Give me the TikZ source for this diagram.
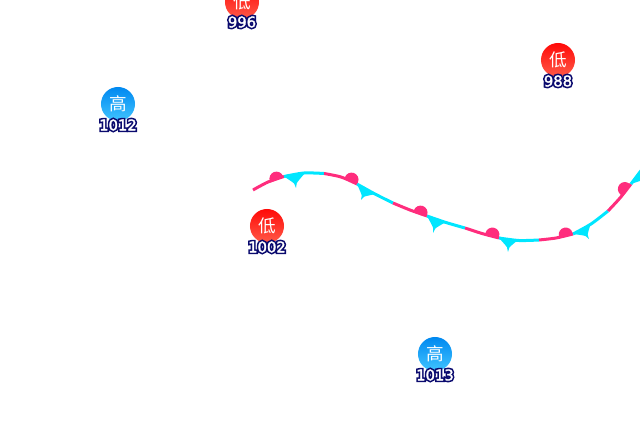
\documentclass[tikz,border=0pt]{standalone}
\usepackage{fontspec}
\setmainfont{DejaVu Sans}
\newfontfamily\cjkfont{Noto Sans CJK SC}
\newfontfamily\haloFont[FakeBold=24]{DejaVu Sans}
\newfontfamily\coreFont[FakeBold=2]{DejaVu Sans}
\usetikzlibrary{calc}
\definecolor{warmpink}{HTML}{FF2D7D}
\definecolor{coldcyan}{HTML}{00E6FF}
\definecolor{halonavy}{HTML}{0A0A6E}
\definecolor{hightop}{HTML}{0088F0}
\definecolor{highbot}{HTML}{40C4FF}
\definecolor{lowtop}{HTML}{FF0A08}
\definecolor{lowbot}{HTML}{FF5A48}
\tikzset{
	warmline/.style={line width=0.075cm, color=warmpink},
	coldline/.style={line width=0.075cm, color=coldcyan},
	lowcenter/.style={circle, minimum size=0.85cm, inner sep=0, text=white, top color=lowtop, bottom color=lowbot, font=\cjkfont\fontsize{12.5}{12.5}\selectfont},
	highcenter/.style={circle, minimum size=0.85cm, inner sep=0, text=white, top color=hightop, bottom color=highbot, font=\cjkfont\fontsize{12.5}{12.5}\selectfont},
	pressure/.style={inner sep=0, font=\fontsize{10.5}{10.5}\selectfont},
}
\newcommand{\halotext}[1]{\rlap{\haloFont\color{halonavy}#1}\coreFont\color{white}#1}
\newcommand{\warmbump}[3]{\fill[warmpink, shift={(#1,#2)}, rotate=#3] (-7,0) -- (-7,-1.5) arc (180:360:7) -- (7,0) -- cycle;}
\newcommand{\coldbarb}[3]{\fill[coldcyan] (#1) .. controls ($(#2)!0.3!($(#1)!0.5!(#3)$)$) .. (#2) .. controls ($(#2)!0.3!($(#1)!0.5!(#3)$)$) .. (#3) -- cycle;}

\begin{document}
\begin{tikzpicture}[x=0.025cm, y=-0.025cm]
		\useasboundingbox (0,0) rectangle (640,440);
		\clip (0,0) rectangle (640,440);
		
		%%%%% front %%%%%
		\draw[warmline] plot[smooth] coordinates {(253,190) (268,182) (284,176.5)};
		\draw[coldline] plot[smooth] coordinates {(284,176.5) (304,173) (324,173.5)};
		\draw[warmline] plot[smooth] coordinates {(324,173.5) (341,177) (357,184)};
		\draw[coldline] plot[smooth] coordinates {(357,184) (375,194) (393,203)};
		\draw[warmline] plot[smooth] coordinates {(393,203) (410,210) (427,216)};
		\draw[coldline] plot[smooth] coordinates {(427,216) (446,222.5) (465,228)};
		\draw[warmline] plot[smooth] coordinates {(465,228) (482,233.5) (499,238)};
		\draw[coldline] plot[smooth] coordinates {(499,238) (519,240.5) (539,240)};
		\draw[warmline] plot[smooth] coordinates {(539,240) (556,238) (573,234)};
		\draw[coldline] plot[smooth] coordinates {(573,234) (591,224) (608,211)};
		\draw[warmline] plot[smooth] coordinates {(608,211) (620,198) (631,184)};
		\draw[coldline] plot[smooth] coordinates {(631,184) (640,172) (645,166)};
		
		\warmbump{277}{180}{22}
		\warmbump{351}{181}{-20}
		\warmbump{420}{214}{-20}
		\warmbump{492}{236}{-15}
		\warmbump{566}{236}{12}
		\warmbump{626}{190}{50}
		
		\coldbarb{284,176.5}{296,188}{305,173}
		\coldbarb{357,184}{361,200}{376,194}
		\coldbarb{427,216}{433,233}{446,222}
		\coldbarb{499,238}{508,252}{518,240}
		\coldbarb{573,234}{589,239}{591,223}
		\coldbarb{631,184}{650,181}{648,162}
		
		%%%%% centers %%%%%
		\node[lowcenter] (low996) at (242,2) {低};
		\node[pressure] (p996) at (242,22) {\halotext{996}};
		\node[lowcenter] (low988) at (558,60) {低};
		\node[pressure] (p988) at (558,81) {\halotext{988}};
		\node[lowcenter] (low1002) at (267,226) {低};
		\node[pressure] (p1002) at (267,247) {\halotext{1002}};
		\node[highcenter] (high1012) at (118,104) {高};
		\node[pressure] (p1012) at (118,125) {\halotext{1012}};
		\node[highcenter] (high1013) at (435,354) {高};
		\node[pressure] (p1013) at (435,375) {\halotext{1013}};
\end{tikzpicture}
\end{document}
